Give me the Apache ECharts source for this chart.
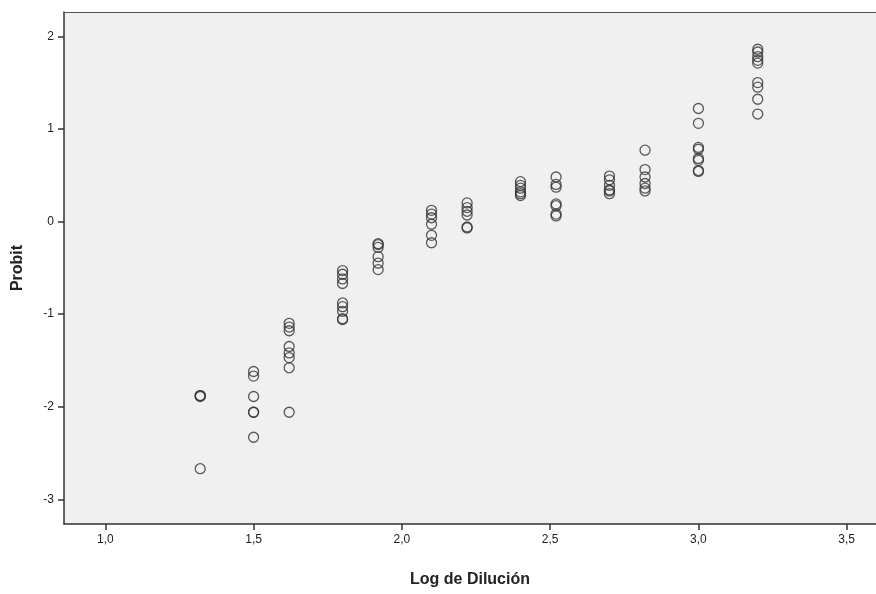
<!DOCTYPE html>
<html>
<head>
<meta charset="utf-8">
<script src="https://cdn.jsdelivr.net/npm/echarts@6/dist/echarts.min.js"></script>
<style>html,body{margin:0;padding:0;background:#fff;}#c{width:876px;height:594px;}</style>
</head>
<body>
<div id="c"></div>
<script>
// Log de Dilución for each column of points
const logDilucion = [1.32, 1.50, 1.62, 1.80, 1.92, 2.10, 2.22, 2.40, 2.52, 2.70, 2.82, 3.00, 3.20];
// Probit values observed at each dilution
const probit132 = [-1.88, -1.88, -1.89, -2.67];
const probit150 = [-1.62, -1.67, -1.89, -2.06, -2.06, -2.33];
const probit162 = [-1.10, -1.14, -1.18, -1.35, -1.42, -1.47, -1.58, -2.06];
const probit180 = [-0.53, -0.57, -0.62, -0.67, -0.88, -0.92, -0.97, -1.05, -1.06];
const probit192 = [-0.24, -0.25, -0.28, -0.38, -0.45, -0.52];
const probit210 = [0.12, 0.08, 0.04, -0.03, -0.15, -0.23];
const probit222 = [0.20, 0.15, 0.11, 0.07, -0.06, -0.07];
const probit240 = [0.43, 0.39, 0.36, 0.32, 0.30, 0.28];
const probit252 = [0.48, 0.40, 0.37, 0.19, 0.17, 0.08, 0.06];
const probit270 = [0.49, 0.45, 0.39, 0.34, 0.33, 0.30];
const probit282 = [0.77, 0.56, 0.48, 0.41, 0.36, 0.33];
const probit300 = [1.22, 1.06, 0.80, 0.78, 0.68, 0.66, 0.55, 0.54];
const probit320 = [1.86, 1.83, 1.78, 1.74, 1.71, 1.50, 1.45, 1.32, 1.16];
const probitCols = [probit132, probit150, probit162, probit180, probit192, probit210, probit222,
                    probit240, probit252, probit270, probit282, probit300, probit320];
const xTicks = [1.0, 1.5, 2.0, 2.5, 3.0, 3.5];
const yTicks = [-3, -2, -1, 0, 1, 2];

const points = [];
logDilucion.forEach((x, i) => probitCols[i].forEach(y => points.push([x, y])));

const chart = echarts.init(document.getElementById('c'));
const axisFont = {fontFamily: 'Liberation Sans, Arial, sans-serif', fontSize: 12, color: '#222'};
const X_MIN = 0.8607, X_MAX = 3.5988;
chart.setOption({
  animation: false,
  backgroundColor: '#ffffff',
  grid: {left: 64, top: 12, right: 0, bottom: 70, show: true,
         backgroundColor: '#f0f0f0', borderWidth: 0},
  xAxis: [{
    type: 'value', min: X_MIN, max: X_MAX,
    name: 'Log de Dilución', nameLocation: 'middle', nameGap: 48,
    nameTextStyle: {fontFamily: 'Liberation Sans, Arial, sans-serif', fontSize: 16, fontWeight: 'bold', color: '#222'},
    axisLine: {show: true, onZero: false, lineStyle: {color: '#333', width: 1.5}},
    axisTick: {show: true, length: 6, customValues: xTicks, lineStyle: {color: '#333', width: 1.5}},
    axisLabel: Object.assign({customValues: xTicks, margin: 10,
      formatter: v => v.toFixed(1).replace('.', ',')}, axisFont),
    splitLine: {show: false}
  }, {
    type: 'value', position: 'top', min: X_MIN, max: X_MAX,
    axisLine: {show: true, onZero: false, lineStyle: {color: '#555', width: 1}},
    axisTick: {show: false}, axisLabel: {show: false}, splitLine: {show: false}
  }],
  yAxis: {
    type: 'value', min: -3.267, max: 2.262,
    name: 'Probit', nameLocation: 'middle', nameGap: 38, nameRotate: 90,
    nameTextStyle: {fontFamily: 'Liberation Sans, Arial, sans-serif', fontSize: 16, fontWeight: 'bold', color: '#222'},
    axisLine: {show: true, onZero: false, lineStyle: {color: '#333', width: 1.5}},
    axisTick: {show: true, length: 6, customValues: yTicks, lineStyle: {color: '#333', width: 1.5}},
    axisLabel: Object.assign({customValues: yTicks, margin: 10,
      formatter: v => String(Math.round(v))}, axisFont),
    splitLine: {show: false}
  },
  series: [{
    type: 'scatter',
    xAxisIndex: 0,
    data: points,
    symbol: 'circle',
    symbolSize: 10,
    itemStyle: {color: 'rgba(0,0,0,0)', borderColor: '#333', borderWidth: 1.3}
  }]
});
</script>
</body>
</html>
